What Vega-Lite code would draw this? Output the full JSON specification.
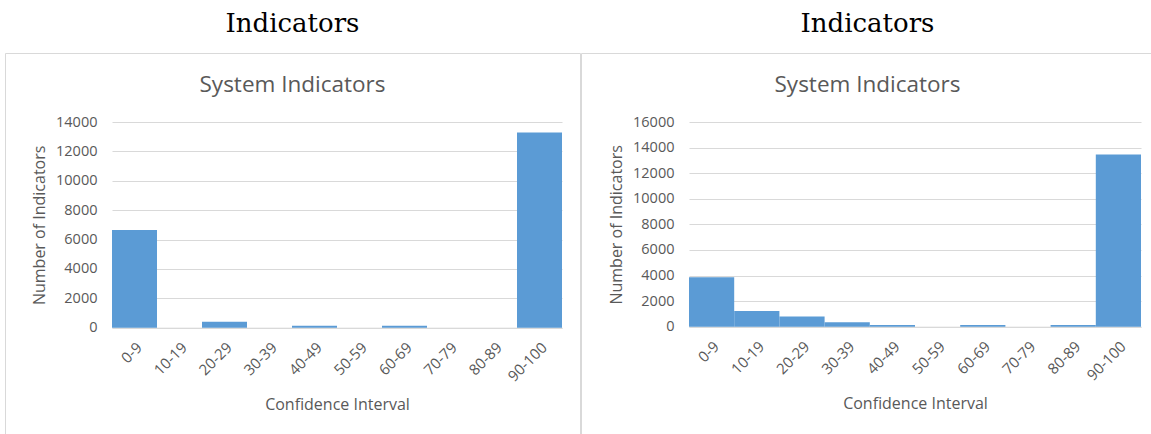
{
  "$schema": "https://vega.github.io/schema/vega-lite/v6.json",
  "padding": {"left": 4, "top": 10, "right": 0, "bottom": 0},
  "spacing": -1,
  "background": "white",
  "config": {
    "view": {"stroke": "#d9d9d9", "strokeWidth": 1},
    "font": "Open Sans",
    "title": {"font": "DejaVu Serif", "fontSize": 26, "fontWeight": "normal", "color": "#000000", "anchor": "middle"},
    "axis": {
      "labelFont": "Open Sans", "titleFont": "Open Sans",
      "labelColor": "#595959", "titleColor": "#595959",
      "titleFontWeight": "normal", "ticks": false, "tickSize": 0
    }
  },
  "hconcat": [
    {
      "title": {"text": "Indicators", "offset": 16},
      "vconcat": [
        {
          "width": 575,
          "height": 382,
          "title": {"text": "System Indicators", "font": "Open Sans", "fontSize": 22.5, "color": "#595959", "offset": -54, "baseline": "middle"},
          "data": {"values": [
            {"interval": "0-9", "count": 6650},
            {"interval": "10-19", "count": 0},
            {"interval": "20-29", "count": 400},
            {"interval": "30-39", "count": 0},
            {"interval": "40-49", "count": 130},
            {"interval": "50-59", "count": 0},
            {"interval": "60-69", "count": 130},
            {"interval": "70-79", "count": 0},
            {"interval": "80-89", "count": 0},
            {"interval": "90-100", "count": 13280}
          ]},
          "mark": {"type": "bar", "color": "#5b9bd5"},
          "encoding": {
            "x": {
              "field": "interval", "type": "ordinal", "sort": null,
              "scale": {"range": [107, 557], "paddingInner": 0, "paddingOuter": 0},
              "axis": {"title": "Confidence Interval", "titleFontSize": 16, "labelFontSize": 15, "labelAngle": -45, "labelAlign": "right", "labelBaseline": "top", "labelPadding": 12, "offset": -107.3, "domainColor": "#d9d9d9", "titlePadding": 12, "grid": false}
            },
            "y": {
              "field": "count", "type": "quantitative",
              "scale": {"domain": [0, 14000], "range": [274.7, 69], "nice": false, "zero": true},
              "axis": {"title": "Number of Indicators", "titleFontSize": 16, "labelFontSize": 14.5, "values": [0, 2000, 4000, 6000, 8000, 10000, 12000, 14000], "offset": -107, "labelPadding": 15, "domain": false, "grid": true, "gridColor": "#d9d9d9", "titlePadding": 8, "format": "d"}
            }
          }
        }
      ]
    },
    {
      "title": {"text": "Indicators", "offset": 16},
      "vconcat": [
        {
          "width": 573,
          "height": 382,
          "title": {"text": "System Indicators", "font": "Open Sans", "fontSize": 22.5, "color": "#595959", "offset": -54, "baseline": "middle"},
          "data": {"values": [
            {"interval": "0-9", "count": 3860},
            {"interval": "10-19", "count": 1220},
            {"interval": "20-29", "count": 800},
            {"interval": "30-39", "count": 340},
            {"interval": "40-49", "count": 140},
            {"interval": "50-59", "count": 0},
            {"interval": "60-69", "count": 140},
            {"interval": "70-79", "count": 0},
            {"interval": "80-89", "count": 140},
            {"interval": "90-100", "count": 13450}
          ]},
          "mark": {"type": "bar", "color": "#5b9bd5"},
          "encoding": {
            "x": {
              "field": "interval", "type": "ordinal", "sort": null,
              "scale": {"range": [108, 560], "paddingInner": 0, "paddingOuter": 0},
              "axis": {"title": "Confidence Interval", "titleFontSize": 16, "labelFontSize": 15, "labelAngle": -45, "labelAlign": "right", "labelBaseline": "top", "labelPadding": 12, "offset": -108.3, "domainColor": "#d9d9d9", "titlePadding": 12, "grid": false}
            },
            "y": {
              "field": "count", "type": "quantitative",
              "scale": {"domain": [0, 16000], "range": [273.7, 69], "nice": false, "zero": true},
              "axis": {"title": "Number of Indicators", "titleFontSize": 16, "labelFontSize": 14.5, "values": [0, 2000, 4000, 6000, 8000, 10000, 12000, 14000, 16000], "offset": -108, "labelPadding": 15, "domain": false, "grid": true, "gridColor": "#d9d9d9", "titlePadding": 8, "format": "d"}
            }
          }
        }
      ]
    }
  ]
}
